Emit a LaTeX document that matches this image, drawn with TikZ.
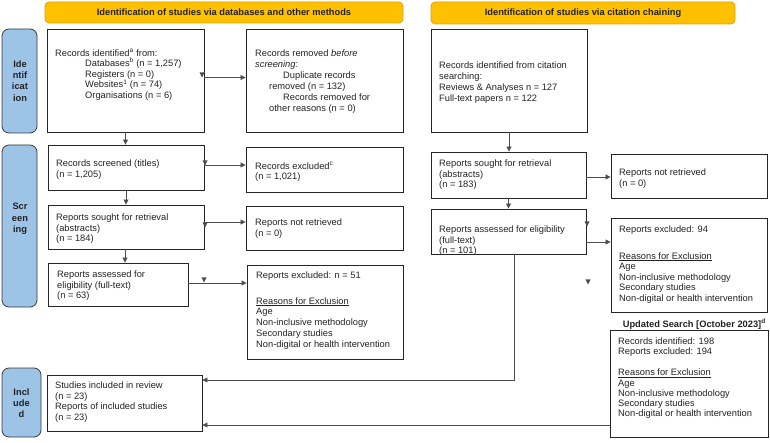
\documentclass[tikz,border=0pt]{standalone}
\usepackage{fontspec}
\setmainfont{Liberation Sans}
\usetikzlibrary{arrows.meta,fit}
\definecolor{hdrfill}{HTML}{FFC000}
\definecolor{hdrline}{HTML}{D9A400}
\definecolor{barfill}{HTML}{9DC3E6}
\definecolor{barline}{HTML}{3A3A3A}
\definecolor{linecol}{HTML}{4D4D4D}
\definecolor{txtcol}{HTML}{222222}
\begin{document}
\begin{tikzpicture}[x=1pt,y=-1pt,
 box/.style={draw=black!85, line width=0.9pt, inner sep=0pt},
 hdr/.style={draw=hdrline, fill=hdrfill, rounded corners=4pt, line width=0.7pt, inner sep=0pt, font=\bfseries\fontsize{9.3}{11}\selectfont, text=txtcol},
 bar/.style={draw=barline, fill=barfill, rounded corners=7pt, line width=0.8pt, inner sep=0pt},
 bartxt/.style={font=\bfseries\fontsize{9.3}{11.3}\selectfont, align=center, inner sep=0pt, text=txtcol},
 txt/.style={font=\fontsize{9.3}{#1}\selectfont, align=left, anchor=north west, inner sep=0pt, text=txtcol},
 txt/.default=10.6,
 arr/.style={draw=linecol, line width=0.8pt, -{Triangle[length=5pt,width=5pt]}},
 stray/.style={fill=linecol},
]
\useasboundingbox (0,0) rectangle (770,443);

% headers
\node[hdr, fit={(45,2) (403,23)}] (h1) {};
\node[hdr, draw=none, fill=none] (h1t) at (h1) {Identification of studies via databases and other methods};
\node[hdr, fit={(431,2) (735,24)}] (h2) {};
\node[hdr, draw=none, fill=none] (h2t) at (h2) {Identification of studies via citation chaining};

% side bars
\node[bar, fit={(2,29) (37,133)}] (b1) {};
\node[bartxt] (b1t) at (20,81) {Ide\\ntif\\icat\\ion};
\node[bar, fit={(2,145) (37,307)}] (b2) {};
\node[bartxt] (b2t) at (20,219) {Scr\\een\\ing};
\node[bar, fit={(2,368) (41,437)}] (b3) {};
\node[bartxt] (b3t) at (21.5,403) {Incl\\ude\\d};

% boxes
\node[box, fit={(47,29) (204,132)}] (id) {};
\node[box, fit={(246,29) (403,132)}] (rem) {};
\node[box, fit={(431,29) (587,132)}] (cit) {};
\node[box, fit={(48,145) (204,190)}] (scr) {};
\node[box, fit={(246,147) (403,192)}] (exc) {};
\node[box, fit={(48,205) (204,249)}] (sou) {};
\node[box, fit={(246,206) (403,250)}] (nrt) {};
\node[box, fit={(48,263) (188,306)}] (ass) {};
\node[box, fit={(247,265) (403,359)}] (ex51) {};
\node[box, fit={(47,375) (202,431)}] (inc) {};
\node[box, fit={(431,152) (586,198)}] (rsou) {};
\node[box, fit={(611,154) (767,198)}] (rnrt) {};
\node[box, fit={(431,209) (586,254)}] (rass) {};
\node[box, fit={(611,218) (767,312)}] (rex) {};
\node[box, fit={(610,330) (768,437)}] (upd) {};

% texts
\node[txt] (idt) at (55,48.5) {Records identified\textsuperscript{a} from:\\
\hspace*{30pt}Databases\textsuperscript{b} (n = 1,257)\\
\hspace*{30pt}Registers (n = 0)\\
\hspace*{30pt}Websites\textsuperscript{1} (n = 74)\\
\hspace*{30pt}Organisations (n = 6)};
\node[txt=11] (remt) at (255,49.5) {Records removed \emph{before}\\
\emph{screening}:\\
\hspace*{28pt}Duplicate records\\
\hspace*{14pt}removed (n = 132)\\
\hspace*{28pt}Records removed for\\
\hspace*{14pt}other reasons (n = 0)};
\node[txt=11] (citt) at (439,61.5) {Records identified from citation\\
searching:\\
Reviews \& Analyses n = 127\\
Full-text papers n = 122};
\node[txt] (scrt) at (56,159.5) {Records screened (titles)\\(n = 1,205)};
\node[txt] (exct) at (255,161.5) {Records excluded\textsuperscript{c}\\(n = 1,021)};
\node[txt] (sout) at (56,213.5) {Reports sought for retrieval\\(abstracts)\\(n = 184)};
\node[txt] (nrtt) at (255,218.5) {Reports not retrieved\\(n = 0)};
\node[txt] (asst) at (57,270.5) {Reports assessed for\\eligibility (full-text)\\(n = 63)};
\node[txt=10.75] (ex51t) at (256,271.5) {Reports excluded: n = 51\\[15pt]
\underline{Reasons for Exclusion}\\
Age\\
Non-inclusive methodology\\
Secondary studies\\
Non-digital or health intervention};
\node[txt] (inct) at (55,381.5) {Studies included in review\\(n = 23)\\Reports of included studies\\(n = 23)};
\node[txt] (rsout) at (439,159.5) {Reports sought for retrieval\\(abstracts)\\(n = 183)};
\node[txt] (rnrtt) at (619,168.5) {Reports not retrieved\\(n = 0)};
\node[txt] (rasst) at (439,225.5) {Reports assessed for eligibility\\(full-text)\\(n = 101)};
\node[txt=10.6] (rext) at (619,225.5) {Reports excluded: 94\\[16pt]
\underline{Reasons for Exclusion}\\
Age\\
Non-inclusive methodology\\
Secondary studies\\
Non-digital or health intervention};
\node[txt, anchor=north east, font=\bfseries\fontsize{9.3}{11}\selectfont] (updl) at (766,319) {Updated Search [October 2023]\textsuperscript{d}};
\node[txt=10.2] (updt) at (618,337.5) {Records identified: 198\\
Reports excluded: 194\\[11pt]
\underline{Reasons for Exclusion}\\
Age\\
Non-inclusive methodology\\
Secondary studies\\
Non-digital or health intervention};

% connectors
\draw[arr] (id.south) -- (id.south |- scr.north);
\draw[arr] ([yshift=3pt]id.east) -- ([yshift=3pt]id.east -| rem.west);
\draw[arr] ([yshift=2.5pt]scr.east) -- ([yshift=2.5pt]scr.east -| exc.west);
\draw[arr] (scr.south) -- (scr.south |- sou.north);
\draw[arr] ([yshift=5pt]sou.east) -- ([yshift=5pt]sou.east -| nrt.west);
\draw[arr] ([xshift=-1pt]sou.south) -- ([xshift=-1pt]sou.south |- ass.north);
\draw[arr] ([yshift=1.5pt]ass.east) -- ([yshift=1.5pt]ass.east -| ex51.west);
\draw[arr] (cit.south) -- (cit.south |- rsou.north);
\draw[arr] ([yshift=-2pt]rsou.east) -- ([yshift=-2pt]rsou.east -| rnrt.west);
\draw[arr] (rsou.south) -- (rsou.south |- rass.north);
\draw[arr] ([yshift=-10.5pt]rass.east) -- ([yshift=-10.5pt]rass.east -| rex.west);
\draw[arr] ([xshift=5.5pt]rass.south) |- ([yshift=23pt]inc.east);
\draw[arr] ([yshift=-22pt]inc.east -| upd.west) -- ([yshift=-22pt]inc.east);

% stray arrowheads
\foreach \x/\y in {202/75, 205/163, 205/225, 204/280, 587/224, 588/282}
  \fill[stray] (\x-2.5,\y-2.5) -- (\x+2.5,\y-2.5) -- (\x,\y+2.5) -- cycle;
\end{tikzpicture}
\end{document}
